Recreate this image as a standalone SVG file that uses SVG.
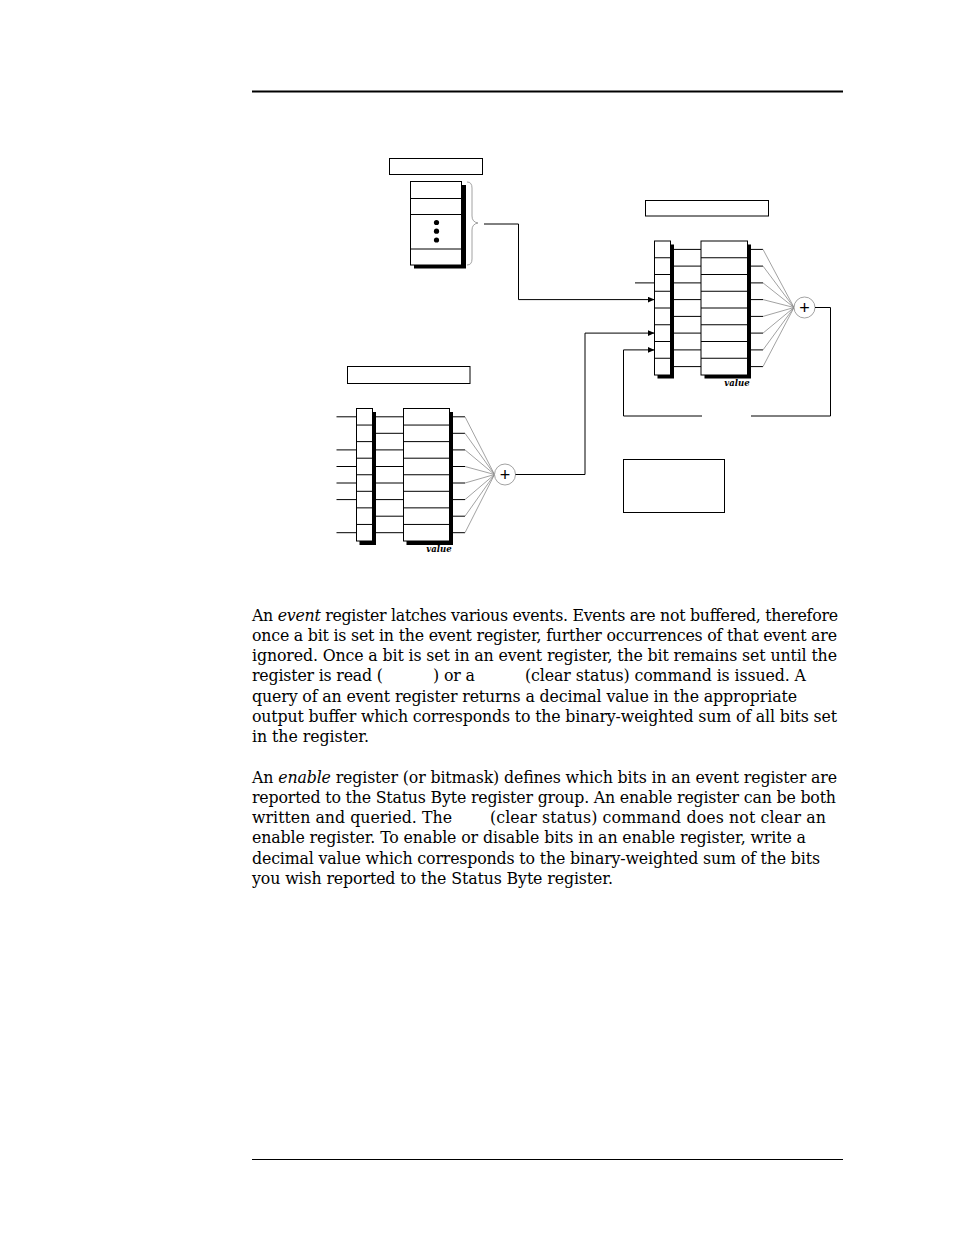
<svg xmlns="http://www.w3.org/2000/svg" width="954" height="1235" viewBox="0 0 954 1235">
<style>
.bx{fill:#fff;stroke:#000;stroke-width:1}
.sh{fill:#000;stroke:none}
.ln{fill:none;stroke:#000;stroke-width:1}
.gr{fill:none;stroke:#8a8a8a;stroke-width:0.8}
.t{font-family:"DejaVu Serif","Liberation Serif",serif;font-size:15.8px;fill:#000}
.v{font-family:"DejaVu Serif","Liberation Serif",serif;font-size:8.5px;font-style:italic;font-weight:bold;fill:#000}
.p{font-family:"Liberation Sans",sans-serif;font-size:18px;fill:#000}
</style>
<defs>
<marker id="ah" markerWidth="7" markerHeight="6" refX="7" refY="3" orient="auto" markerUnits="userSpaceOnUse">
<path d="M0,0 L7,3 L0,6 Z" fill="#000"/>
</marker>
</defs>
<rect width="954" height="1235" fill="#fff"/>
<line x1="252" y1="91.5" x2="843" y2="91.5" stroke="#000" stroke-width="2.2"/>
<line x1="252" y1="1159.5" x2="843" y2="1159.5" stroke="#000" stroke-width="1"/>

<g id="status-register">
<rect class="bx" x="389.5" y="158.5" width="93" height="16"/>
<rect class="sh" x="414" y="185" width="52" height="83.5"/>
<rect class="bx" x="410.5" y="181.5" width="51" height="83.5"/>
<path class="ln" d="M410.5,198.5H461.5M410.5,214.5H461.5M410.5,249H461.5"/>
<circle cx="436.5" cy="222.5" r="2.6" fill="#000"/>
<circle cx="436.5" cy="231.2" r="2.6" fill="#000"/>
<circle cx="436.5" cy="240" r="2.6" fill="#000"/>
<path class="gr" d="M467,182 Q472,182 472,188 V216 Q472,222 478,223 Q472,224 472,230 V259 Q472,265 467,265"/>
</g>

<g id="right-register">
<rect class="bx" x="645.5" y="200.5" width="123" height="15.5"/>
<rect class="sh" x="657.5" y="244.5" width="16.5" height="134"/>
<rect class="bx" x="654.5" y="241" width="16" height="134"/>
<path class="ln" d="M654.5,257.75H670.5M654.5,274.5H670.5M654.5,291.25H670.5M654.5,308H670.5M654.5,324.75H670.5M654.5,341.5H670.5M654.5,358.25H670.5"/>
<rect class="sh" x="704.5" y="244.5" width="46.5" height="134"/>
<rect class="bx" x="701" y="241" width="46.5" height="134"/>
<path class="ln" d="M701,257.75H747.5M701,274.5H747.5M701,291.25H747.5M701,308H747.5M701,324.75H747.5M701,341.5H747.5M701,358.25H747.5"/>
<path class="ln" d="M674,249.4H701M674,266.1H701M674,282.9H701M674,299.6H701M674,316.4H701M674,333.1H701M674,349.9H701M674,366.6H701"/>
<path class="ln" d="M751,249.4H763M751,266.1H763M751,282.9H763M751,299.6H763M751,316.4H763M751,333.1H763M751,349.9H763M751,366.6H763"/>
<path class="gr" d="M763,249.4L794,307.5M763,266.1L794,307.5M763,282.9L794,307.5M763,299.6L794,307.5M763,316.4L794,307.5M763,333.1L794,307.5M763,349.9L794,307.5M763,366.6L794,307.5"/>
<text class="v" x="737" y="386" text-anchor="middle">value</text>
</g>

<g id="right-sum">
<circle cx="804.5" cy="307.5" r="10.5" fill="#fff" stroke="#8a8a8a" stroke-width="0.8"/>
<text class="p" x="804.5" y="313.5" text-anchor="middle">+</text>
</g>

<g id="left-register">
<rect class="bx" x="347.5" y="366.5" width="122.5" height="17"/>
<rect class="sh" x="359.5" y="412" width="16.5" height="133"/>
<rect class="bx" x="356.5" y="408.5" width="16" height="132.5"/>
<path class="ln" d="M356.5,425.06H372.5M356.5,441.62H372.5M356.5,458.19H372.5M356.5,474.75H372.5M356.5,491.31H372.5M356.5,507.87H372.5M356.5,524.44H372.5"/>
<rect class="sh" x="406.5" y="412" width="46.5" height="133"/>
<rect class="bx" x="403.5" y="408.5" width="46" height="132.5"/>
<path class="ln" d="M403.5,425.06H449.5M403.5,441.62H449.5M403.5,458.19H449.5M403.5,474.75H449.5M403.5,491.31H449.5M403.5,507.87H449.5M403.5,524.44H449.5"/>
<path class="ln" d="M376,416.8H403.5M376,433.3H403.5M376,449.9H403.5M376,466.5H403.5M376,483H403.5M376,499.6H403.5M376,516.2H403.5M376,532.7H403.5"/>
<path class="ln" d="M453,416.8H465M453,433.3H465M453,449.9H465M453,466.5H465M453,483H465M453,499.6H465M453,516.2H465M453,532.7H465"/>
<path class="gr" d="M465,416.8L494.5,474.5M465,433.3L494.5,474.5M465,449.9L494.5,474.5M465,466.5L494.5,474.5M465,483L494.5,474.5M465,499.6L494.5,474.5M465,516.2L494.5,474.5M465,532.7L494.5,474.5"/>
<text class="v" x="439" y="552" text-anchor="middle">value</text>
</g>

<g id="left-sum">
<circle cx="505" cy="474.5" r="10.5" fill="#fff" stroke="#8a8a8a" stroke-width="0.8"/>
<text class="p" x="505" y="480.5" text-anchor="middle">+</text>
</g>

<g id="output-box">
<rect class="bx" x="623.5" y="459.5" width="101" height="53"/>
</g>

<g id="connectors">
<path class="ln" d="M336.5,416.8H356.5M336.5,449.9H356.5M336.5,466.5H356.5M336.5,483H356.5M336.5,499.6H356.5M336.5,532.7H356.5"/>
<path class="ln" d="M484,224H518.5V299.6H654.5" marker-end="url(#ah)"/>
<path class="ln" d="M635,282.9H654.5"/>
<path class="ln" d="M515.5,474.5H585V333.1H654.5" marker-end="url(#ah)"/>
<path class="ln" d="M815,307.5H830.5V416H751"/>
<path class="ln" d="M702,416H623.5V349.9H654.5" marker-end="url(#ah)"/>
</g>

<g id="text">
<text class="t" x="252" y="620.5" textLength="586" lengthAdjust="spacing">An <tspan font-style="italic">event</tspan> register latches various events. Events are not buffered, therefore</text>
<text class="t" x="252" y="640.7" textLength="585" lengthAdjust="spacing">once a bit is set in the event register, further occurrences of that event are</text>
<text class="t" x="252" y="661" textLength="585" lengthAdjust="spacing">ignored. Once a bit is set in an event register, the bit remains set until the</text>
<text class="t" x="252" y="681.3" textLength="131" lengthAdjust="spacing">register is read (</text>
<text class="t" x="433" y="681.3" textLength="42" lengthAdjust="spacing">) or a</text>
<text class="t" x="525" y="681.3" textLength="281" lengthAdjust="spacing">(clear status) command is issued. A</text>
<text class="t" x="252" y="701.5" textLength="545" lengthAdjust="spacing">query of an event register returns a decimal value in the appropriate</text>
<text class="t" x="252" y="721.8" textLength="585" lengthAdjust="spacing">output buffer which corresponds to the binary-weighted sum of all bits set</text>
<text class="t" x="252" y="742" textLength="117" lengthAdjust="spacing">in the register.</text>

<text class="t" x="252" y="782.5" textLength="585" lengthAdjust="spacing">An <tspan font-style="italic">enable</tspan> register (or bitmask) defines which bits in an event register are</text>
<text class="t" x="252" y="802.7" textLength="584" lengthAdjust="spacing">reported to the Status Byte register group. An enable register can be both</text>
<text class="t" x="252" y="823" textLength="200" lengthAdjust="spacing">written and queried. The</text>
<text class="t" x="490" y="823" textLength="336" lengthAdjust="spacing">(clear status) command does not clear an</text>
<text class="t" x="252" y="843.3" textLength="554" lengthAdjust="spacing">enable register. To enable or disable bits in an enable register, write a</text>
<text class="t" x="252" y="863.5" textLength="568" lengthAdjust="spacing">decimal value which corresponds to the binary-weighted sum of the bits</text>
<text class="t" x="252" y="883.8" textLength="361" lengthAdjust="spacing">you wish reported to the Status Byte register.</text>
</g>
</svg>
